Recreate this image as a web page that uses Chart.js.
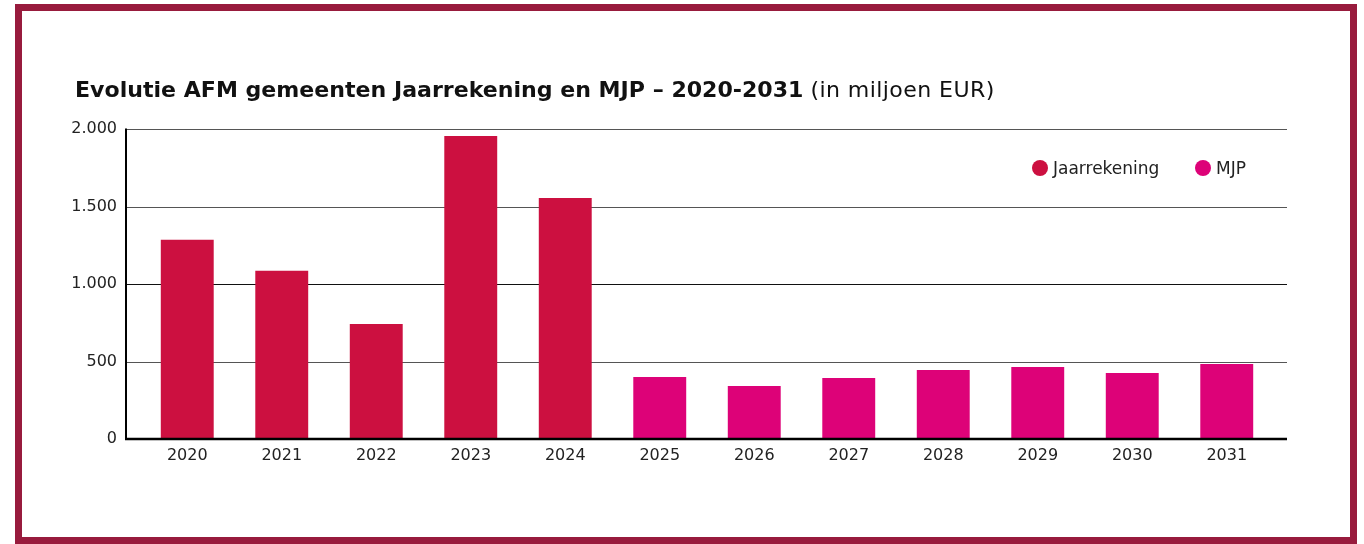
<!DOCTYPE html>
<html>
<head>
<meta charset="utf-8">
<script src="https://cdn.jsdelivr.net/npm/chart.js@4.4.1/dist/chart.umd.min.js"></script>
<style>
  html, body { margin: 0; padding: 0; background: #fff; width: 1364px; height: 544px; overflow: hidden; }
  #c { position: absolute; left: 0; top: 0; }
  #frame { position: absolute; left: 15px; top: 4px; width: 1342px; height: 540px; box-sizing: border-box; border: 7px solid #981B3D; pointer-events: none; }
  #title { position: absolute; left: 75px; top: 78px; font-family: "DejaVu Sans", sans-serif; font-size: 20px; color: #111; white-space: nowrap; line-height: normal; }
  #title b { font-weight: bold; }
  #title span { font-weight: normal; letter-spacing: 0.4px; }
  .lg { position: absolute; top: 158px; height: 20px; display: flex; align-items: center; font-family: "DejaVu Sans", sans-serif; font-size: 17px; color: #222; white-space: nowrap; }
  .lg i { display: inline-block; width: 16px; height: 16px; border-radius: 50%; margin-right: 5px; }
</style>
</head>
<body>
<canvas id="c" width="1364" height="544"></canvas>
<div id="frame"></div>
<div id="title"><b id="tb">Evolutie AFM gemeenten Jaarrekening en MJP – 2020-2031</b> <span>(in miljoen EUR)</span></div>
<div id="legend"></div>
<script>
const years = ["2020","2021","2022","2023","2024","2025","2026","2027","2028","2029","2030","2031"];
const jaarrekening = [1285, 1085, 742, 1955, 1555, null, null, null, null, null, null, null];
const mjp = [null, null, null, null, null, 400, 342, 394, 445, 465, 426, 484];
const seriesNames = ["Jaarrekening", "MJP"];
const yTicks = [0, 500, 1000, 1500, 2000];

const FONT = "DejaVu Sans";
Chart.defaults.font.family = FONT;
Chart.defaults.color = "#222";

function fmt(v) {
  return String(v).replace(/\B(?=(\d{3})+(?!\d))/g, ".");
}

const gridExt = {
  id: "gridExt",
  beforeDatasetsDraw(chart) {
    const ctx = chart.ctx, y = chart.scales.y, a = chart.chartArea;
    ctx.save();
    ctx.lineWidth = 1;
    yTicks.forEach(v => {
      if (v === 0) return;
      const py = Math.round(y.getPixelForValue(v)) + 0.5;
      ctx.strokeStyle = (v === 1000) ? "#111" : "#555";
      ctx.beginPath();
      ctx.moveTo(a.left - 13, py);
      ctx.lineTo(a.right + 13, py);
      ctx.stroke();
    });
    ctx.restore();
  },
  afterDatasetsDraw(chart) {
    const ctx = chart.ctx, y = chart.scales.y, a = chart.chartArea;
    ctx.save();
    ctx.strokeStyle = "#000";
    ctx.lineWidth = 2;
    const top = y.getPixelForValue(yTicks[yTicks.length - 1]);
    const base = y.getPixelForValue(0);
    ctx.beginPath();
    ctx.moveTo(a.left - 14, top - 0.5);
    ctx.lineTo(a.left - 14, base + 1);
    ctx.stroke();
    ctx.lineWidth = 2.5;
    ctx.beginPath();
    ctx.moveTo(a.left - 15, base);
    ctx.lineTo(a.right + 13, base);
    ctx.stroke();
    ctx.restore();
  }
};

const chart = new Chart(document.getElementById("c"), {
  type: "bar",
  data: {
    labels: years,
    datasets: [
      { label: seriesNames[0], data: jaarrekening, backgroundColor: "#CC1040" },
      { label: seriesNames[1], data: mjp, backgroundColor: "#DD0278" }
    ]
  },
  options: {
    responsive: false,
    animation: false,
    grouped: false,
    barPercentage: 0.56,
    categoryPercentage: 1,
    layout: { padding: { left: 50, right: 90, top: 129, bottom: 65 } },
    plugins: {
      title: { display: false },
      tooltip: { enabled: false },
      legend: { display: false }
    },
    scales: {
      x: {
        grid: { display: false, drawTicks: false },
        border: { display: false },
        ticks: { padding: 7, font: { size: 16 }, color: "#222" },
        afterFit(s) { s.height = 40; }
      },
      y: {
        min: 0, max: 2000,
        grid: { display: false, drawTicks: false },
        border: { display: false },
        afterBuildTicks(s) { s.ticks = yTicks.map(v => ({ value: v })); },
        ticks: { padding: 23, font: { size: 16 }, color: "#222", callback: v => fmt(v) },
        afterFit(s) { s.width = 90; }
      }
    }
  },
  plugins: [gridExt]
});

// HTML legend built from the chart's datasets
(function () {
  const lefts = [1032, 1195];
  const box = document.getElementById("legend");
  chart.data.datasets.forEach((ds, i) => {
    const d = document.createElement("div");
    d.className = "lg";
    d.style.left = lefts[i] + "px";
    const dot = document.createElement("i");
    dot.style.background = ds.backgroundColor;
    d.appendChild(dot);
    d.appendChild(document.createTextNode(ds.label));
    box.appendChild(d);
  });
})();

// fit title width to reference
(function () {
  const tb = document.getElementById("tb");
  const w = tb.getBoundingClientRect().width;
  const target = 729;
  const size = 20 * target / w;
  const t = document.getElementById("title");
  t.style.fontSize = size.toFixed(2) + "px";
  t.style.top = (97 - size * 0.928) + "px";
})();
</script>
</body>
</html>
